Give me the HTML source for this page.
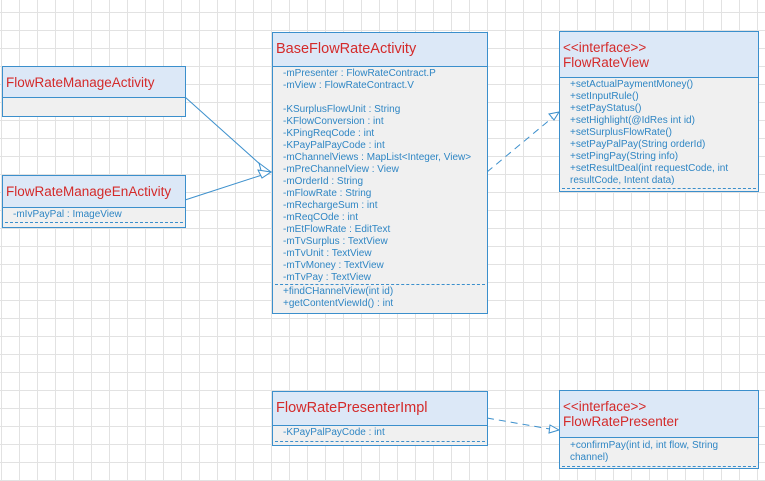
<!DOCTYPE html>
<html><head><meta charset="utf-8"><style>
body{margin:0;width:765px;height:481px;overflow:hidden;background:#fff;font-family:"Segoe UI","Liberation Sans",sans-serif;
background-image:linear-gradient(to right,#e2e2e2 1px,transparent 1px),linear-gradient(to bottom,#e2e2e2 1px,transparent 1px);
background-size:18px 18px;background-position:1px 12px;position:relative}
.b{position:absolute;border:1px solid #3b8fcc;background:#f0f0f0;box-sizing:border-box;overflow:hidden}
.h{background:#dce8f7;border-bottom:1px solid #3b8fcc;color:#d42a2a;font-size:13.5px;padding:0 3px;box-sizing:border-box;display:flex;flex-direction:column;justify-content:center;line-height:15px}
.m{color:#2f86c4;font-size:10px;line-height:12px;padding:1px 0 0 10px;white-space:pre}
.d{border-bottom:1px dashed #3b8fcc;margin:0 2px}
svg{position:absolute;left:0;top:0}
</style></head><body>
<svg width="765" height="481">
<g stroke="#3b8fcc" fill="none" stroke-width="1">
<line x1="185" y1="97" x2="262" y2="166"/>
<line x1="185" y1="200" x2="262" y2="175"/>
<polygon points="271,172 259,163 262,174" fill="#fff"/>
<polygon points="271,172 258,170 262,178" fill="#fff"/>
<line x1="487" y1="172" x2="552" y2="118" stroke-dasharray="7,5"/>
<polygon points="559,112 549,114 554,120" fill="#fff"/>
<line x1="487" y1="418" x2="550" y2="429" stroke-dasharray="7,5"/>
<polygon points="559,430 550,425 549,433" fill="#fff"/>
</g></svg>
<div class="b" style="left:2px;top:66px;width:184px;height:51px"><div class="h" style="height:31px">FlowRateManageActivity</div></div>
<div class="b" style="left:2px;top:175px;width:184px;height:53px"><div class="h" style="height:32px">FlowRateManageEnActivity</div><div class="m">-mIvPayPal : ImageView</div><div class="d" style="margin-top:1px"></div></div>
<div class="b" style="left:272px;top:32px;width:216px;height:282px"><div class="h" style="height:34px;font-size:14.5px">BaseFlowRateActivity</div>
<div class="m">-mPresenter : FlowRateContract.P
-mView : FlowRateContract.V

-KSurplusFlowUnit : String
-KFlowConversion : int
-KPingReqCode : int
-KPayPalPayCode : int
-mChannelViews : MapList&lt;Integer, View&gt;
-mPreChannelView : View
-mOrderId : String
-mFlowRate : String
-mRechargeSum : int
-mReqCOde : int
-mEtFlowRate : EditText
-mTvSurplus : TextView
-mTvUnit : TextView
-mTvMoney : TextView
-mTvPay : TextView</div><div class="d" style="margin-top:0px"></div>
<div class="m">+findCHannelView(int id)
+getContentViewId() : int</div></div>
<div class="b" style="left:559px;top:31px;width:200px;height:161px"><div class="h" style="height:46px">&lt;&lt;interface&gt;&gt;<br>FlowRateView</div>
<div class="m" style="padding-top:1px">+setActualPaymentMoney()
+setInputRule()
+setPayStatus()
+setHighlight(@IdRes int id)
+setSurplusFlowRate()
+setPayPalPay(String orderId)
+setPingPay(String info)
+setResultDeal(int requestCode, int</div><div class="m" style="padding:0 0 0 10px">resultCode, Intent data)</div><div class="d" style="margin-top:1px"></div></div>
<div class="b" style="left:272px;top:391px;width:216px;height:55px"><div class="h" style="height:34px;font-size:14.5px">FlowRatePresenterImpl</div><div class="m">-KPayPalPayCode : int</div><div class="d" style="margin-top:2px"></div></div>
<div class="b" style="left:559px;top:390px;width:200px;height:79px"><div class="h" style="height:47px">&lt;&lt;interface&gt;&gt;<br>FlowRatePresenter</div>
<div class="m" style="padding-top:2px">+confirmPay(int id, int flow, String</div><div class="m" style="padding:0 0 0 10px">channel)</div><div class="d" style="margin-top:2px"></div></div>
</body></html>
